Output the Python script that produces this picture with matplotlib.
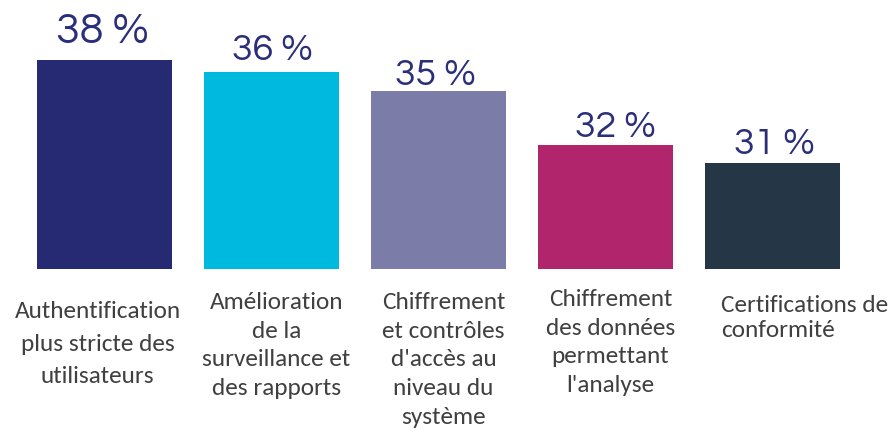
import matplotlib
matplotlib.use('Agg')
import matplotlib.pyplot as plt

# data
categories = ['Authentification\nplus stricte des\nutilisateurs',
              'Amélioration\nde la\nsurveillance et\ndes rapports',
              "Chiffrement\net contrôles\nd'accès au\nniveau du\nsystème",
              'Chiffrement\ndes données\npermettant\nl\'analyse',
              'Certifications de\nconformité']
pct = [38, 36, 35, 32, 31]
bar_len = [38.0, 35.8, 32.4, 22.5, 19.3]   # drawn bar lengths (not proportional in the original)

colors = ['#252a72', '#00b9de', '#7b7ca8', '#b1256d', '#253747']
txt_col = '#2b2f7a'

W, H = 891, 438
fig = plt.figure(figsize=(W/100, H/100), dpi=100)
ax = fig.add_axes([0, 0, 1, 1])
step = 167.0
pxu = 209/38.0
x0 = 104.5
base = 269
ax.set_xlim(-x0/step, (W-x0)/step)
ax.set_ylim(-(H-base)/pxu, base/pxu)
ax.axis('off')

xs = list(range(len(pct)))
ax.bar(xs, bar_len, width=135/step, color=colors)

# value labels
lab_size = [31, 27, 27, 27, 27]
lab_gap = [17, 12, 6, 8, 9]
lab_dx = [-2, 1, -3, 10, 2]
for i, v in enumerate(pct):
    ax.text(i + lab_dx[i]/step, bar_len[i] + lab_gap[i]/pxu, f'{v} %', ha='center', va='baseline',
            fontsize=lab_size[i], color=txt_col, family=['Questrial', 'DejaVu Sans'])

# category labels
cat_font = ['Carlito', 'DejaVu Sans']
cat_ls = [1.68, 1.45, 1.45, 1.45, 1.25]
cat_dx = [-7, 5, 5, 5, 0]
cat_top = [301, 292, 292, 289, 295]
for i, c in enumerate(categories):
    if i == 4:
        ax.text((721 - x0)/step, -(cat_top[i]-base)/pxu, c, ha='left', va='top', ma='left', fontsize=18.2,
                color='#404040', family=cat_font, linespacing=cat_ls[i])
    else:
        ax.text(i + cat_dx[i]/step, -(cat_top[i]-base)/pxu, c, ha='center', va='top', ma='center',
                fontsize=18.2, color='#404040', family=cat_font, linespacing=cat_ls[i])

fig.savefig('out.png', dpi=100)
